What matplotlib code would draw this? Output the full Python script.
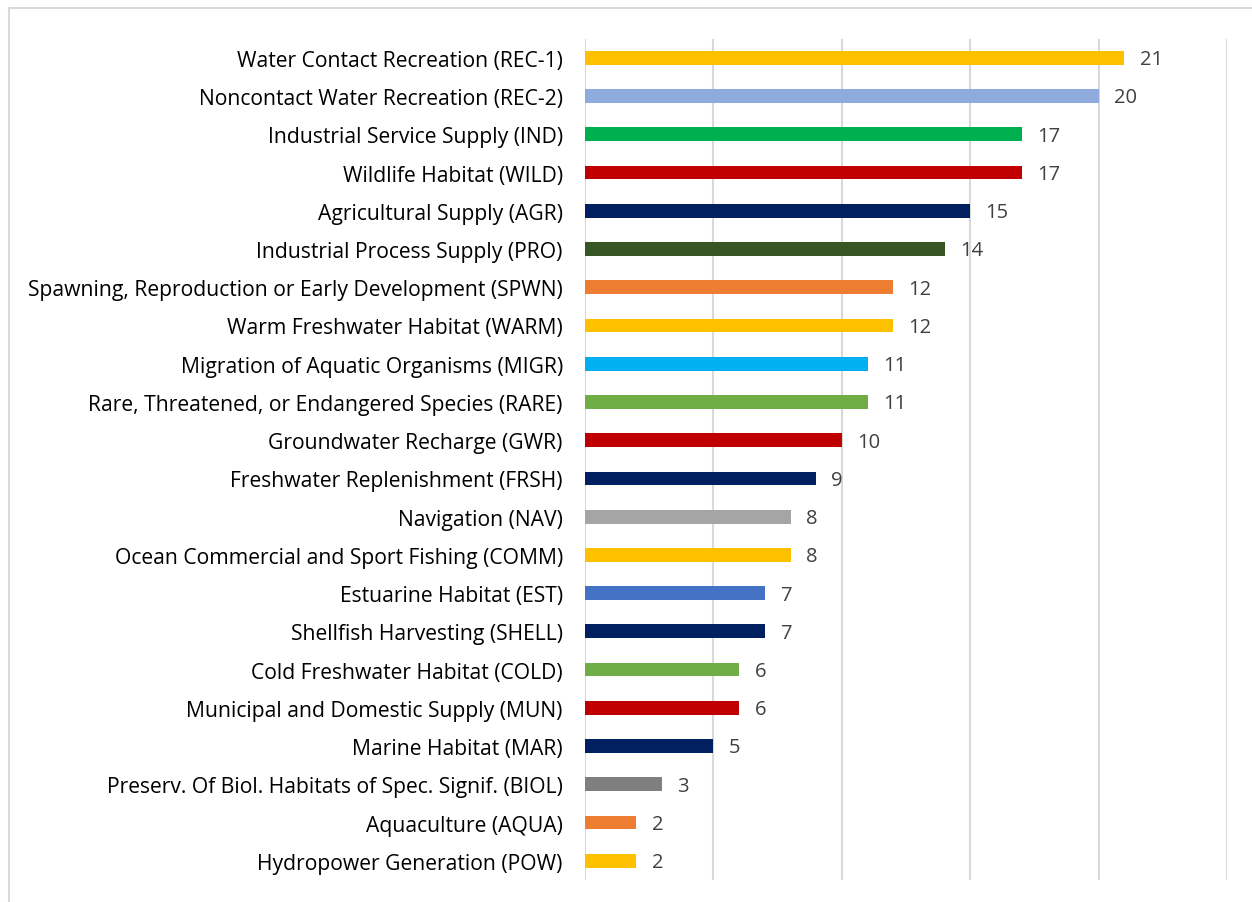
import matplotlib.pyplot as plt
from matplotlib.patches import Rectangle

categorias = [
    "Water Contact Recreation (REC-1)",
    "Noncontact Water Recreation (REC-2)",
    "Industrial Service Supply (IND)",
    "Wildlife Habitat (WILD)",
    "Agricultural Supply (AGR)",
    "Industrial Process Supply (PRO)",
    "Spawning, Reproduction or Early Development (SPWN)",
    "Warm Freshwater Habitat (WARM)",
    "Migration of Aquatic Organisms (MIGR)",
    "Rare, Threatened, or Endangered Species (RARE)",
    "Groundwater Recharge (GWR)",
    "Freshwater Replenishment (FRSH)",
    "Navigation (NAV)",
    "Ocean Commercial and Sport Fishing (COMM)",
    "Estuarine Habitat (EST)",
    "Shellfish Harvesting (SHELL)",
    "Cold Freshwater Habitat (COLD)",
    "Municipal and Domestic Supply (MUN)",
    "Marine Habitat (MAR)",
    "Preserv. Of Biol. Habitats of Spec. Signif. (BIOL)",
    "Aquaculture (AQUA)",
    "Hydropower Generation (POW)",
]
valores = [21, 20, 17, 17, 15, 14, 12, 12, 11, 11, 10, 9, 8, 8, 7, 7, 6, 6, 5, 3, 2, 2]
cores = [
    "#FFC000", "#8FAADC", "#00B050", "#C00000", "#002060", "#375623",
    "#ED7D31", "#FFC000", "#00B0F0", "#70AD47", "#C00000", "#002060",
    "#A5A5A5", "#FFC000", "#4472C4", "#002060", "#70AD47", "#C00000",
    "#002060", "#7F7F7F", "#ED7D31", "#FFC000",
]

plt.rcParams["font.family"] = ["Open Sans", "DejaVu Sans"]

fig = plt.figure(figsize=(12.52, 9.03), dpi=100)
ax = fig.add_axes([0.4673, 0.0245, 0.5128, 0.9315])

y = list(range(len(categorias)))
barras = ax.barh(y, valores, height=0.36, color=cores)
for barra, v in zip(barras, valores):
    ax.annotate(str(v), xy=(barra.get_width(), barra.get_y() + barra.get_height() / 2),
                xytext=(11, -1), textcoords="offset points",
                ha="left", va="center", fontsize=14.5, color="#404040")

ax.set_xlim(0, 25)
ax.set_ylim(len(categorias) - 0.5, -0.5)
ax.set_yticks(y)
ax.set_yticklabels(categorias, fontsize=15.25, color="black")
ax.set_xticks([0, 5, 10, 15, 20, 25])
ax.tick_params(axis="x", length=0, labelbottom=False)
ax.tick_params(axis="y", length=0, pad=16)
ax.grid(axis="x", color="#d9d9d9", linewidth=1.5)
ax.set_axisbelow(True)
for s in ax.spines.values():
    s.set_visible(False)

# moldura cinza em volta do gráfico
fig.patches.append(Rectangle((9 / 1252, -0.01), 1.02, 1 - 9 / 903 + 0.01,
                             transform=fig.transFigure, fill=False,
                             edgecolor="#d9d9d9", linewidth=1.5))

fig.savefig("out.png", dpi=100)
